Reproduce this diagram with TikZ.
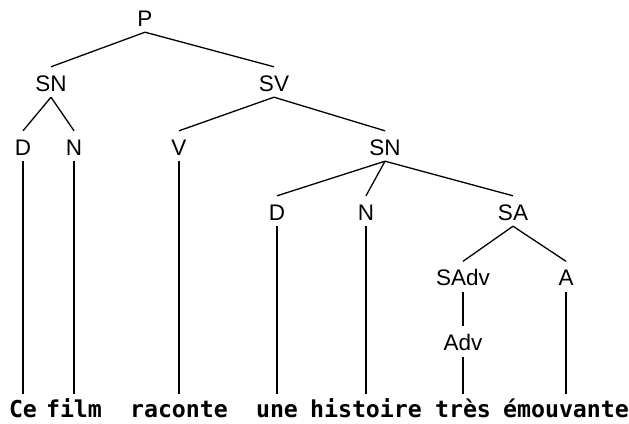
\documentclass[tikz,border=0pt]{standalone}
\usepackage{fontspec}
\setmainfont{Liberation Sans}
\newfontfamily\wordfont{DejaVu Sans Mono}
\begin{document}
\begin{tikzpicture}[x=1pt,y=-1pt,
  cat/.style={anchor=base,inner xsep=0pt,inner ysep=6pt,text height=18pt,text depth=0pt,font=\fontsize{22.5}{24}\selectfont},
  word/.style={anchor=base,inner xsep=0pt,inner ysep=6pt,text height=17pt,text depth=0pt,font=\wordfont\bfseries\fontsize{23.25}{25}\selectfont},
  edge/.style={line width=1.3pt}]
\useasboundingbox (0,0) rectangle (629,423);
% categories
\node[cat] (P) at (145,26) {P};
\node[cat] (SN) at (51,91) {SN};
\node[cat] (SV) at (274,91) {SV};
\node[cat] (D) at (23,155) {D};
\node[cat] (N) at (74,155) {N};
\node[cat] (V) at (179,155) {V};
\node[cat] (SNb) at (385,155) {SN};
\node[cat] (Db) at (277,220) {D};
\node[cat] (Nb) at (366,220) {N};
\node[cat] (SA) at (513,220) {SA};
\node[cat] (SAdv) at (463,285.5) {SAdv};
\node[cat] (A) at (566,285.5) {A};
\node[cat] (Adv) at (463,350.5) {Adv};
% words
\node[word] (w1) at (23,417) {Ce};
\node[word] (w2) at (74,417) {film};
\node[word] (w3) at (179,417) {raconte};
\node[word] (w4) at (277,417) {une};
\node[word] (w5) at (366,417) {histoire};
\node[word] (w6) at (463,417) {très};
\node[word] (w7) at (566,417) {émouvante};
% edges
\draw[edge] (P.south) -- (SN.north);
\draw[edge] (P.south) -- (SV.north);
\draw[edge] (SN.south) -- (D.north);
\draw[edge] (SN.south) -- (N.north);
\draw[edge] (SV.south) -- (V.north);
\draw[edge] (SV.south) -- (SNb.north);
\draw[edge] (SNb.south) -- (Db.north);
\draw[edge] (SNb.south) -- (Nb.north);
\draw[edge] (SNb.south) -- (SA.north);
\draw[edge] (SA.south) -- (SAdv.north);
\draw[edge] (SA.south) -- (A.north);
\draw[edge] (SAdv.south) -- (Adv.north);
\draw[edge] (D.south) -- (w1.north);
\draw[edge] (N.south) -- (w2.north);
\draw[edge] (V.south) -- (w3.north);
\draw[edge] (Db.south) -- (w4.north);
\draw[edge] (Nb.south) -- (w5.north);
\draw[edge] (Adv.south) -- (w6.north);
\draw[edge] (A.south) -- (w7.north);
\end{tikzpicture}
\end{document}
